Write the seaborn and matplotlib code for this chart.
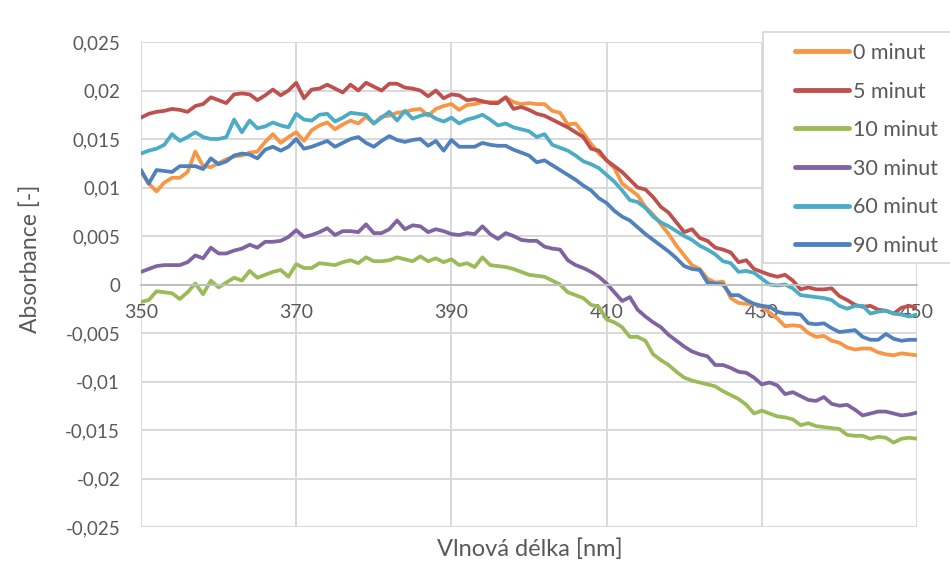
import matplotlib
matplotlib.use("Agg")
import matplotlib.pyplot as plt
from matplotlib.patches import Rectangle
from matplotlib.lines import Line2D
from matplotlib.ticker import FixedLocator, FuncFormatter
import numpy as np
import pandas as pd
import seaborn as sns

# Wavelength grid [nm]
wavelength = list(range(350, 451))

# Absorbance spectra, values in 10^-3 absorbance units, 1 nm step (350-450 nm)
abs_0min = [11.6, 10.4, 9.6, 10.5, 11.0, 11.0, 11.6, 13.7, 12.2, 12.1,
            12.5, 12.9, 13.2, 13.3, 13.6, 13.7, 14.7, 15.5, 14.6, 15.2,
            15.7, 14.8, 15.9, 16.4, 16.7, 16.0, 16.5, 16.9, 16.6, 17.3,
            16.6, 17.3, 17.4, 17.7, 17.8, 18.0, 18.1, 17.4, 18.1, 18.4,
            18.6, 18.0, 18.5, 18.6, 18.8, 18.8, 18.8, 19.3, 18.8, 18.6,
            18.7, 18.6, 18.6, 17.9, 17.7, 16.5, 16.6, 15.6, 14.5, 13.5,
            12.8, 12.0, 10.4, 9.8, 9.2, 8.0, 7.2, 6.2, 5.2, 4.0,
            3.0, 2.0, 1.6, 0.6, 0.2, 0.3, -1.4, -1.9, -2.0, -2.0,
            -2.3, -2.9, -3.5, -4.3, -4.2, -4.3, -5.0, -5.4, -5.3, -5.8,
            -6.0, -6.5, -6.7, -6.6, -6.6, -7.0, -7.2, -7.3, -7.1, -7.2,
            -7.3]
abs_5min = [17.2, 17.6, 17.8, 17.9, 18.1, 18.0, 17.8, 18.4, 18.6, 19.3,
            19.0, 18.7, 19.6, 19.7, 19.6, 19.0, 19.5, 20.1, 19.5, 20.0,
            20.8, 19.2, 20.1, 20.2, 20.6, 20.2, 19.8, 20.6, 20.0, 20.8,
            20.4, 20.0, 20.7, 20.7, 20.3, 20.2, 20.0, 19.4, 20.0, 19.2,
            19.6, 19.5, 19.0, 19.1, 18.9, 18.7, 18.7, 19.3, 18.1, 18.3,
            18.0, 17.6, 17.4, 17.0, 16.6, 16.2, 15.7, 15.2, 14.0, 13.8,
            12.8, 12.2, 11.6, 10.8, 10.0, 9.8, 9.0, 8.0, 7.4, 6.4,
            5.4, 5.7, 4.8, 4.5, 3.8, 3.6, 3.3, 2.3, 2.5, 1.6,
            1.3, 1.0, 0.8, 1.0, 0.4, -0.5, -0.3, -0.5, -0.5, -0.4,
            -1.2, -1.6, -2.1, -2.3, -2.2, -2.6, -2.7, -3.0, -2.4, -2.2,
            -2.4]
abs_10min = [-1.8, -1.6, -0.7, -0.8, -0.9, -1.5, -0.8, 0.1, -1.0, 0.4,
             -0.3, 0.2, 0.7, 0.4, 1.4, 0.7, 1.0, 1.3, 1.5, 0.8,
             2.1, 1.7, 1.7, 2.2, 2.1, 2.0, 2.3, 2.5, 2.2, 2.8,
             2.4, 2.4, 2.5, 2.8, 2.6, 2.4, 2.9, 2.4, 2.7, 2.3,
             2.6, 2.0, 2.2, 1.8, 2.8, 2.0, 1.9, 1.8, 1.6, 1.3,
             1.0, 0.9, 0.8, 0.4, 0.0, -0.8, -1.1, -1.4, -2.1, -2.3,
             -3.6, -3.9, -4.4, -5.4, -5.4, -5.8, -7.2, -7.8, -8.3, -9.0,
             -9.6, -9.9, -10.1, -10.3, -10.5, -11.0, -11.4, -11.8, -12.4, -13.3,
             -13.0, -13.3, -13.6, -13.7, -13.9, -14.5, -14.3, -14.6, -14.7, -14.8,
             -14.9, -15.5, -15.6, -15.6, -15.9, -15.7, -15.8, -16.3, -15.9, -15.8,
             -15.9]
abs_30min = [1.3, 1.6, 1.9, 2.0, 2.0, 2.0, 2.3, 3.0, 2.7, 3.8,
             3.2, 3.2, 3.5, 3.7, 4.1, 3.8, 4.4, 4.4, 4.5, 4.9,
             5.6, 4.9, 5.1, 5.4, 5.8, 5.1, 5.5, 5.5, 5.4, 6.2,
             5.3, 5.3, 5.7, 6.6, 5.7, 6.1, 6.0, 5.4, 5.7, 5.5,
             5.2, 5.1, 5.3, 5.2, 6.0, 5.2, 4.7, 5.3, 5.0, 4.6,
             4.5, 4.5, 3.9, 3.7, 3.6, 2.5, 2.0, 1.7, 1.3, 0.8,
             0.1, -0.8, -1.7, -1.3, -2.6, -3.3, -3.9, -4.4, -5.2, -5.8,
             -6.4, -6.9, -7.2, -7.4, -8.3, -8.3, -8.6, -9.0, -9.1, -9.6,
             -10.3, -10.1, -10.4, -11.3, -11.1, -11.5, -11.9, -12.0, -11.6, -12.3,
             -12.5, -12.4, -12.9, -13.5, -13.3, -13.1, -13.1, -13.3, -13.5, -13.4,
             -13.2]
abs_60min = [13.5, 13.8, 14.0, 14.4, 15.5, 14.8, 15.2, 15.7, 15.2, 15.0,
             15.0, 15.2, 17.0, 15.7, 16.9, 16.1, 16.3, 16.7, 16.4, 16.2,
             17.6, 17.0, 16.9, 17.5, 17.6, 16.8, 17.2, 17.7, 17.6, 17.5,
             16.6, 17.2, 17.8, 16.9, 17.9, 17.1, 17.4, 17.6, 17.1, 16.8,
             17.2, 16.6, 17.0, 17.2, 17.5, 17.0, 16.4, 16.6, 16.2, 16.0,
             15.8, 15.2, 15.5, 14.4, 14.1, 13.8, 13.3, 12.7, 12.4, 12.0,
             11.3, 10.6, 9.7, 8.7, 8.5, 7.9, 7.0, 6.4, 6.0, 5.5,
             5.0, 4.6, 4.0, 3.6, 3.1, 2.4, 2.2, 1.3, 1.4, 1.2,
             0.6, 0.0, -0.1, 0.0, -0.4, -1.1, -1.2, -1.3, -1.4, -1.6,
             -2.2, -2.5, -2.2, -2.2, -3.0, -2.8, -2.7, -3.0, -3.1, -3.3,
             -3.1]
abs_90min = [11.8, 10.4, 11.8, 11.7, 11.6, 12.2, 12.2, 12.2, 11.9, 13.0,
             12.4, 12.7, 13.3, 13.5, 13.4, 13.0, 13.9, 14.2, 13.8, 14.2,
             15.0, 14.0, 14.2, 14.5, 14.8, 14.2, 14.6, 15.0, 15.2, 14.6,
             14.2, 14.8, 15.3, 14.9, 14.7, 14.9, 15.0, 14.3, 14.8, 13.8,
             14.9, 14.2, 14.2, 14.2, 14.6, 14.4, 14.3, 14.3, 13.9, 13.6,
             13.3, 12.6, 12.8, 12.3, 11.8, 11.3, 10.8, 10.2, 9.7, 8.9,
             8.4, 7.6, 7.0, 6.6, 5.9, 5.2, 4.6, 4.0, 3.4, 2.7,
             1.9, 1.6, 1.5, 0.2, 0.1, 0.0, -1.1, -1.1, -1.6, -2.0,
             -2.2, -2.3, -2.8, -3.0, -3.0, -3.1, -4.0, -4.1, -4.0, -4.5,
             -4.9, -4.8, -4.7, -5.4, -5.7, -5.7, -5.1, -5.6, -5.8, -5.7,
             -5.7]

series_names = ["0 minut", "5 minut", "10 minut", "30 minut", "60 minut", "90 minut"]
series_values = [abs_0min, abs_5min, abs_10min, abs_30min, abs_60min, abs_90min]
series_colors = ["#F79646", "#C0504D", "#9BBB59", "#8064A2", "#4BACC6", "#4F81BD"]

y_ticks = [-0.025, -0.02, -0.015, -0.01, -0.005, 0, 0.005, 0.01, 0.015, 0.02, 0.025]
x_ticks = [350, 370, 390, 410, 430, 450]

# Long-form table for seaborn
frames = []
for name, vals in zip(series_names, series_values):
    frames.append(pd.DataFrame({
        "wavelength": wavelength,
        "absorbance": np.asarray(vals) * 1e-3,
        "series": name,
    }))
df = pd.concat(frames, ignore_index=True)

sns.set_theme(style="white")
plt.rcParams["font.family"] = ["Lato", "DejaVu Sans"]

W, H = 950, 577
fig = plt.figure(figsize=(W / 100, H / 100), dpi=100)
fig.patch.set_facecolor("white")

L, R, T, B = 141, 917, 42, 527
ax = fig.add_axes([L / W, 1 - B / H, (R - L) / W, (B - T) / H])
ax.set_facecolor("white")

sns.lineplot(data=df, x="wavelength", y="absorbance", hue="series",
             hue_order=series_names, palette=series_colors,
             linewidth=2.7, legend=False, ax=ax, errorbar=None)
for ln in ax.get_lines():
    ln.set_solid_capstyle("round")
    ln.set_solid_joinstyle("round")

ax.set_xlim(350, 450)
ax.set_ylim(-0.025, 0.025)
ax.xaxis.set_major_locator(FixedLocator(x_ticks))
ax.yaxis.set_major_locator(FixedLocator(y_ticks))


def fmt_comma(v, _pos):
    if abs(v) < 1e-12:
        return "0"
    return f"{v:.3f}".rstrip("0").replace(".", ",")


ax.yaxis.set_major_formatter(FuncFormatter(fmt_comma))
ax.xaxis.set_major_formatter(FuncFormatter(lambda v, _p: f"{int(round(v))}"))

ax.grid(True, color="#D9D9D9", linewidth=1.4)
ax.set_axisbelow(True)
for side in ["top", "right", "left"]:
    ax.spines[side].set_visible(False)
ax.spines["bottom"].set_position(("data", 0))
ax.spines["bottom"].set_color("#BFBFBF")
ax.spines["bottom"].set_linewidth(1.4)

label_color = "#595959"
ax.tick_params(axis="both", length=0, labelsize=14, labelcolor=label_color)
ax.tick_params(axis="y", labelsize=13.5)
ax.tick_params(axis="x", pad=14)
ax.tick_params(axis="y", pad=15)
ax.set_xlabel("")
ax.set_ylabel("")

fig.text(530 / W, 1 - 549 / H, "Vlnová délka [nm]", ha="center", va="center",
         fontsize=17, color=label_color)
fig.text(30 / W, 1 - 259 / H, "Absorbance [-]", ha="center", va="center",
         rotation=90, fontsize=16.5, color=label_color)

# Legend box overlapping the upper right corner of the plot
fig.patches.append(Rectangle((763 / W, 1 - 263 / H), (960 - 763) / W, (263 - 32) / H,
                             transform=fig.transFigure, facecolor="white",
                             edgecolor="#D9D9D9", linewidth=1.3, zorder=3))
handles = [Line2D([], [], color=c, linewidth=3.5) for c in series_colors]
fig.legend(handles, series_names, loc="upper left",
           bbox_to_anchor=(795 / W, 1 - 43 / H), frameon=False,
           borderpad=0, borderaxespad=0, handlelength=2.5, handletextpad=0.19,
           labelspacing=0.86, fontsize=15.5, labelcolor=label_color)

fig.savefig("out.png", dpi=100, facecolor="white")
